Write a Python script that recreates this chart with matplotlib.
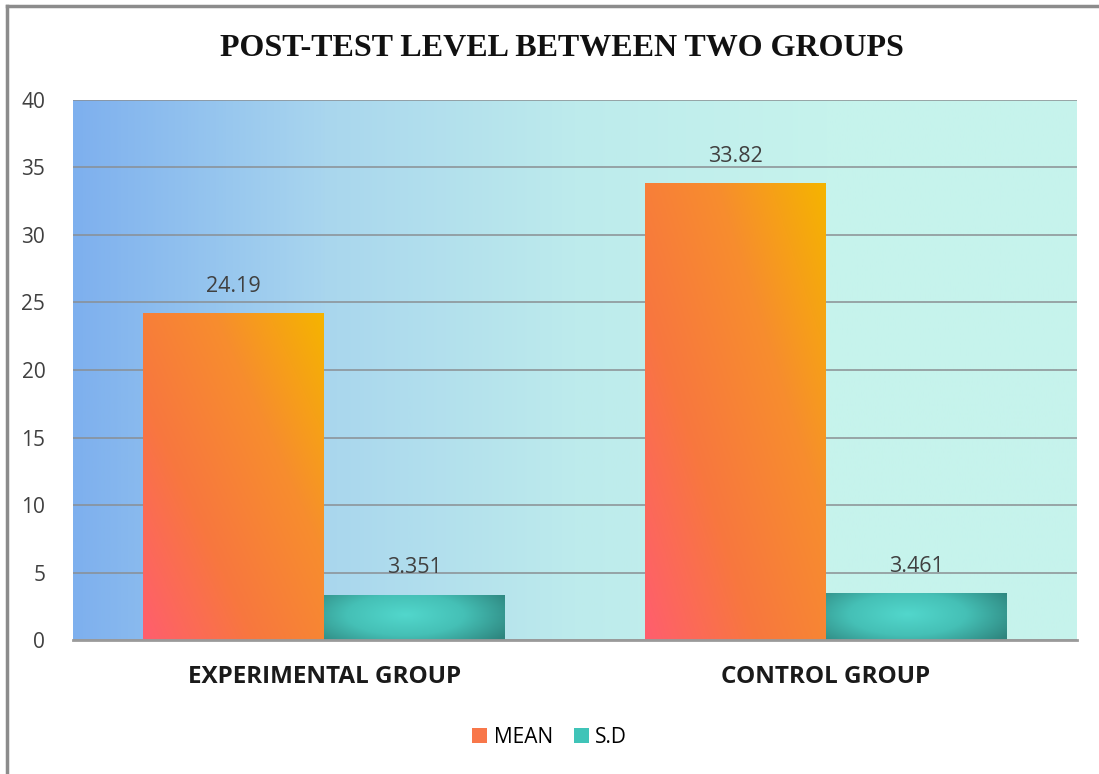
import numpy as np
import matplotlib
matplotlib.use('Agg')
from matplotlib import pyplot as plt
from matplotlib.colors import LinearSegmentedColormap
from matplotlib.patches import Patch
from matplotlib.lines import Line2D

groups = ['EXPERIMENTAL GROUP', 'CONTROL GROUP']
mean = [24.19, 33.82]
sd = [3.351, 3.461]
mean_labels = ['24.19', '33.82']
sd_labels = ['3.351', '3.461']
yticks = [0, 5, 10, 15, 20, 25, 30, 35, 40]

mean_cmap = LinearSegmentedColormap.from_list('mean', ['#ff5e6e', '#f8773f', '#f78d2e', '#f5b400'])
sd_cmap = LinearSegmentedColormap.from_list('sd', ['#52d7cc', '#45c0b6', '#2e857e'])
bg_cmap = LinearSegmentedColormap.from_list('bg', ['#7eb0ee', '#a9d6ee', '#bdebec', '#c6f3ec', '#c6f3ec'])

fig = plt.figure(figsize=(10.99, 7.74), dpi=100)
ax = fig.add_axes([0.0665, 0.173, 0.9135, 0.698])

# background gradient of the plot area
bg = np.linspace(0, 1, 400)[None, :]
ax.imshow(bg, cmap=bg_cmap, aspect='auto', extent=[0, 1, 0, 1],
          transform=ax.transAxes, zorder=0)

x = np.arange(len(groups))
w = 0.36
bars_m = ax.bar(x - w / 2, mean, w, color='none', zorder=3)
bars_s = ax.bar(x + w / 2, sd, w, color='none', zorder=3)

# gradient fills clipped to the bars
uu, vv = np.meshgrid(np.linspace(0, 1, 200), np.linspace(0, 1, 200))
g_mean = (uu * 0.55 + vv * 0.45)
d = np.sqrt(((uu - 0.45) / 0.65) ** 2 + ((vv - 0.55) / 0.9) ** 2)
g_sd = np.clip(d, 0, 1)
for b in bars_m:
    im = ax.imshow(g_mean, cmap=mean_cmap, origin='lower', aspect='auto',
                   extent=[b.get_x(), b.get_x() + b.get_width(), 0, b.get_height()],
                   zorder=3, vmin=0, vmax=1)
    im.set_clip_path(b)
for b in bars_s:
    im = ax.imshow(g_sd, cmap=sd_cmap, origin='lower', aspect='auto',
                   extent=[b.get_x(), b.get_x() + b.get_width(), 0, b.get_height()],
                   zorder=3, vmin=0, vmax=1)
    im.set_clip_path(b)

for b, t in zip(list(bars_m) + list(bars_s), mean_labels + sd_labels):
    ax.annotate(t, (b.get_x() + b.get_width() / 2, b.get_height()),
                xytext=(0, 12), textcoords='offset points', ha='center', va='bottom',
                fontsize=15.5, color='#404040', family='Open Sans', zorder=5)

ax.set_xlim(-0.5, 1.5)
ax.set_ylim(0, 40)
ax.set_yticks(yticks)
ax.yaxis.grid(True, color='#8a8f93', linewidth=1.1)
ax.set_axisbelow(False)
for gl in ax.yaxis.get_gridlines():
    gl.set_zorder(2)
ax.tick_params(axis='y', length=0, pad=20, labelsize=15, labelcolor='#404040')
ax.tick_params(axis='x', length=0, pad=18)
ax.set_xticks(x)
ax.set_xticklabels(groups, fontsize=17.5, fontweight='bold', family='Open Sans', color='#1a1a1a')
for lab in ax.get_yticklabels():
    lab.set_family('Open Sans')
for s in ['left', 'right', 'top']:
    ax.spines[s].set_visible(False)
ax.spines['bottom'].set_color('#9a9a9a')
ax.spines['bottom'].set_linewidth(2)
ax.spines['bottom'].set_zorder(4)

fig.text(0.511, 0.937, 'POST-TEST LEVEL BETWEEN TWO GROUPS', ha='center', va='center',
         fontsize=23, fontweight='bold', family='Liberation Serif', color='#111111')

handles = [Patch(facecolor='#f8774a'), Patch(facecolor='#40c4b8')]
fig.legend(handles, ['MEAN', 'S.D'], loc='center', bbox_to_anchor=(0.5, 0.047), ncol=2,
           frameon=False, prop={'family': 'Open Sans', 'size': 15},
           handlelength=0.75, handleheight=0.75, handletextpad=0.3, columnspacing=1.0)

# outer chart frame (top and left edges visible)
fig.add_artist(Line2D([0.0064, 0.0064], [0, 0.992], transform=fig.transFigure,
                      color='#8c8c8c', linewidth=2.5))
fig.add_artist(Line2D([0.0064, 1], [0.992, 0.992], transform=fig.transFigure,
                      color='#8c8c8c', linewidth=2.5))

fig.savefig('out.png', dpi=100)
